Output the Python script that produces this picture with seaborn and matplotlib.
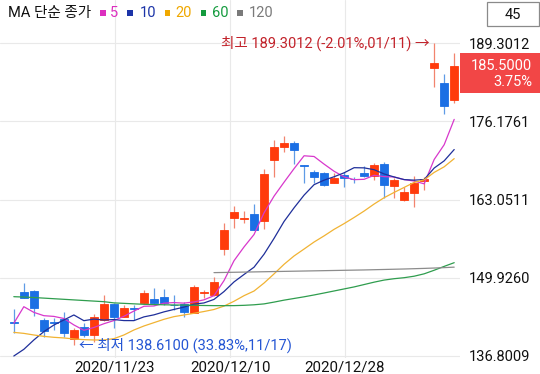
import numpy as np
import pandas as pd
import matplotlib
matplotlib.use("Agg")
import matplotlib.pyplot as plt
import seaborn as sns
from matplotlib.patches import Rectangle

# ---------------- data ----------------
dates = ["2020/11/09", "2020/11/10", "2020/11/11", "2020/11/12", "2020/11/13",
         "2020/11/16", "2020/11/17", "2020/11/18", "2020/11/19", "2020/11/20",
         "2020/11/23", "2020/11/24", "2020/11/25", "2020/11/27", "2020/11/30",
         "2020/12/01", "2020/12/02", "2020/12/03", "2020/12/04", "2020/12/07",
         "2020/12/08", "2020/12/09", "2020/12/10", "2020/12/11", "2020/12/14",
         "2020/12/15", "2020/12/16", "2020/12/17", "2020/12/18", "2020/12/21",
         "2020/12/22", "2020/12/23", "2020/12/24", "2020/12/28", "2020/12/29",
         "2020/12/30", "2020/12/31", "2021/01/04", "2021/01/05", "2021/01/06",
         "2021/01/07", "2021/01/08", "2021/01/11", "2021/01/12", "2021/01/13"]

opens = [142.45, 147.49, 147.72, 142.85, 142.50, 143.01, 139.60, 141.73, 140.33, 142.85,
         145.53, 143.41, 144.90, 145.64, 146.32, 146.65, 145.40, 145.53, 144.08, 147.30,
         147.04, 154.71, 159.92, 159.80, 160.59, 159.53, 169.71, 171.84, 172.51, 168.87,
         167.64, 167.47, 165.91, 167.19, 166.60, 167.47, 167.03, 169.04, 165.35, 162.99,
         164.23, 166.20, 185.10, 182.69, 179.79]
highs = [144.64, 149.12, 147.88, 143.13, 143.13, 144.25, 141.45, 142.40, 143.80, 147.04,
         145.64, 145.36, 145.36, 147.88, 148.16, 148.10, 147.04, 145.92, 148.72, 147.88,
         150.12, 159.08, 162.00, 161.15, 162.32, 168.14, 173.07, 173.80, 172.90, 168.87,
         168.03, 167.75, 167.47, 167.75, 166.90, 168.76, 169.15, 169.43, 166.63, 165.24,
         167.03, 166.91, 189.3012, 184.15, 187.62]
lows = [140.72, 146.48, 143.52, 139.93, 141.20, 140.05, 138.61, 140.05, 139.10, 142.73,
        141.45, 143.30, 142.85, 145.53, 145.36, 145.36, 144.52, 143.29, 143.97, 146.60,
        146.90, 153.76, 158.24, 159.19, 157.90, 158.07, 166.80, 171.11, 169.04, 165.91,
        165.90, 165.40, 165.80, 165.24, 165.90, 166.90, 166.35, 163.28, 163.28, 162.90,
        161.88, 164.67, 182.03, 177.44, 179.23]
closes = [142.40, 146.59, 144.80, 141.06, 142.40, 140.66, 141.17, 140.33, 143.41, 145.53,
          143.29, 144.80, 144.70, 147.43, 145.76, 145.64, 145.30, 144.25, 148.44, 147.50,
          149.17, 157.96, 160.92, 160.00, 157.96, 167.36, 171.95, 172.62, 171.39, 168.76,
          166.80, 165.51, 166.63, 166.63, 166.50, 167.08, 168.87, 165.51, 166.35, 164.28,
          165.91, 166.50, 185.94, 178.78, 185.50]

ma5 = [142.29, 145.08, 144.13, 143.57, 143.45, 143.10, 142.02, 141.12, 141.59, 142.22,
       142.75, 143.47, 144.35, 145.15, 145.20, 145.67, 145.77, 145.68, 145.88, 146.23,
       146.93, 149.46, 152.80, 155.11, 157.20, 160.84, 163.64, 165.98, 168.26, 170.42,
       170.30, 169.02, 167.82, 166.87, 166.41, 166.47, 167.14, 166.92, 166.86, 166.42,
       166.18, 165.71, 169.80, 172.28, 176.53]
ma10 = [136.80, 137.92, 139.49, 140.89, 142.00, 142.85, 143.69, 142.73, 143.00, 142.84,
        142.92, 142.75, 142.74, 143.37, 143.71, 144.21, 144.62, 145.01, 145.51, 145.71,
        146.30, 147.62, 149.24, 150.49, 151.71, 153.89, 156.55, 159.39, 161.68, 163.81,
        165.57, 166.33, 166.90, 167.56, 168.42, 168.39, 168.08, 167.37, 166.86, 166.42,
        166.33, 166.43, 168.36, 169.57, 171.47]
ma20 = [140.77, 140.60, 140.33, 140.10, 139.94, 139.83, 139.66, 139.55, 139.49, 139.49,
        139.71, 140.33, 141.17, 141.84, 142.40, 142.96, 143.41, 143.69, 143.97, 144.27,
        144.61, 145.18, 145.99, 146.93, 147.71, 149.05, 150.59, 152.20, 153.60, 154.76,
        155.94, 156.97, 158.07, 159.03, 160.06, 161.14, 162.32, 163.38, 164.27, 165.11,
        165.95, 166.38, 167.63, 168.57, 169.94]
ma60 = [146.76, 146.70, 146.62, 146.52, 146.42, 146.32, 146.22, 146.12, 146.02, 145.92,
        145.72, 145.64, 145.56, 145.48, 145.44, 145.40, 145.37, 145.35, 145.31, 145.28,
        145.26, 145.25, 145.26, 145.31, 145.40, 145.55, 145.85, 146.18, 146.46, 146.74,
        147.05, 147.38, 147.72, 148.06, 148.40, 148.80, 149.20, 149.55, 149.78, 149.95,
        150.20, 150.60, 151.20, 151.85, 152.47]
ma120 = [np.nan] * 20 + [150.80, 150.83, 150.86, 150.89, 150.92, 150.95, 150.98, 151.01,
                         151.04, 151.07, 151.10, 151.13, 151.16, 151.19, 151.22, 151.25,
                         151.29, 151.33, 151.37, 151.41, 151.46, 151.51, 151.57, 151.64,
                         151.72]

y_ticks = [136.8009, 149.9260, 163.0511, 176.1761, 189.3012]
x_tick_labels = ["2020/11/23", "2020/12/10", "2020/12/28"]
legend_title = "MA 단순 종가"
ma_names = ["5", "10", "20", "60", "120"]
high_note = "최고 189.3012 (-2.01%,01/11) →"
low_note = "← 최저 138.6100 (33.83%,11/17)"
last_price = "185.5000"
last_change = "3.75%"
count_label = "45"
high_idx, high_val = 42, 189.3012
low_idx, low_val = 6, 138.61

# ---------------- style ----------------
UP, DOWN = "#ff3b0c", "#1b6fe4"
UP_WICK, DOWN_WICK = "#f2846e", "#5f9be6"
line_colors = ["#d838cc", "#1f2f9a", "#f1b333", "#2f9d4e", "#8c8c8c"]
legend_colors = ["#dc2fbf", "#1c34a8", "#f0a800", "#149b3e", "#7a7a7a"]

sns.set_theme(style="white")
plt.rcParams['font.family'] = ['Roboto', 'Noto Sans CJK KR', 'DejaVu Sans']

W, H = 540, 374
fig = plt.figure(figsize=(W / 100, H / 100), dpi=100)
fig.patch.set_facecolor("white")

ax_bottom_px = 358  # from top
ax = fig.add_axes([0, (H - ax_bottom_px) / H, 460 / W, ax_bottom_px / H])
ppu = (356 - 43.33) / (189.3012 - 136.8009)
ax.set_ylim(136.8009 - 2 / ppu, 136.8009 - 2 / ppu + ax_bottom_px / ppu)
x0, x1 = -1.38, 44.58
ax.set_xlim(x0, x1)

df = pd.DataFrame({"idx": np.arange(len(dates)), "date": dates, "open": opens,
                   "high": highs, "low": lows, "close": closes})
up = df["close"] >= df["open"]
body_col = np.where(up, UP, DOWN)
wick_col = np.where(up, UP_WICK, DOWN_WICK)

ax.vlines(df["idx"], df["low"], df["high"], colors=wick_col, linewidth=0.9, zorder=2)
bottoms = np.minimum(df["open"], df["close"])
heights = (df["close"] - df["open"]).abs()
ax.bar(df["idx"], heights, bottom=bottoms, width=0.74, color=body_col,
       edgecolor=body_col, linewidth=0.6, zorder=3)

ma_df = pd.concat([
    pd.DataFrame({"idx": np.arange(len(dates)), "value": vals, "ma": name})
    for name, vals in zip(ma_names, [ma5, ma10, ma20, ma60, ma120])
])
ma_df = ma_df.dropna()
sns.lineplot(data=ma_df, x="idx", y="value", hue="ma", palette=dict(zip(ma_names, line_colors)),
             estimator=None, sort=False, legend=False, linewidth=0.9, ax=ax, zorder=4)

# grid / ticks
ax.set_yticks(y_ticks)
ax.set_yticklabels([f"{v:.4f}" for v in y_ticks])
xt = [x0 + f * (x1 - x0) for f in (0.25, 0.5, 0.75)]
ax.set_xticks(xt)
ax.set_xticklabels(x_tick_labels)
ax.grid(True, color="#e9e9e9", linewidth=0.8, zorder=0)
ax.set_axisbelow(True)
for s in ax.spines.values():
    s.set_visible(False)
ax.yaxis.tick_right()
ax.tick_params(axis="y", length=0, pad=6.5, labelsize=10.5, labelcolor="#111111")
ax.tick_params(axis="x", length=0, pad=1.5, labelsize=10.8, labelcolor="#111111")
ax.set_xlabel("")
ax.set_ylabel("")

# annotations
ax.text(high_idx - 0.42, high_val, high_note, ha="right", va="center",
        color="#c2222a", fontsize=10.5, zorder=5)
ax.text(low_idx + 0.5, low_val, low_note, ha="left", va="center",
        color="#2556d4", fontsize=10.5, zorder=5)

# legend at top
ty = 1 - 13 / H
fig.text(8 / W, ty, legend_title, ha="left", va="center", fontsize=10.5, color="#111111")
sq_x = [100, 127, 164.6, 200.8, 237]
lab_x = [110, 139.5, 175.6, 212, 249]
for name, c, sx, lx in zip(ma_names, legend_colors, sq_x, lab_x):
    fig.patches.append(Rectangle((sx / W, 1 - 15.5 / H), 5.5 / W, 5.5 / H,
                                 transform=fig.transFigure, facecolor=c, edgecolor="none"))
    fig.text(lx / W, ty, name, ha="left", va="center", fontsize=10.5, color=c)

# "45" box
fig.patches.append(Rectangle((486.5 / W, 1 - 25.5 / H), 52.5 / W, 23 / H,
                             transform=fig.transFigure, facecolor="white",
                             edgecolor="#8a8a8a", linewidth=0.9))
fig.text(513 / W, 1 - 15 / H, count_label, ha="center", va="center", fontsize=10.5, color="#111111")

# current price box
fig.patches.append(Rectangle((460 / W, 1 - 93 / H), 80 / W, 40 / H,
                             transform=fig.transFigure, facecolor="#f24646", edgecolor="none"))
fig.text(532 / W, 1 - 65.5 / H, last_price, ha="right", va="center", fontsize=10.5, color="white")
fig.text(532 / W, 1 - 82 / H, last_change, ha="right", va="center", fontsize=10.5, color="white")

fig.savefig("out.png", dpi=100, facecolor="white")
